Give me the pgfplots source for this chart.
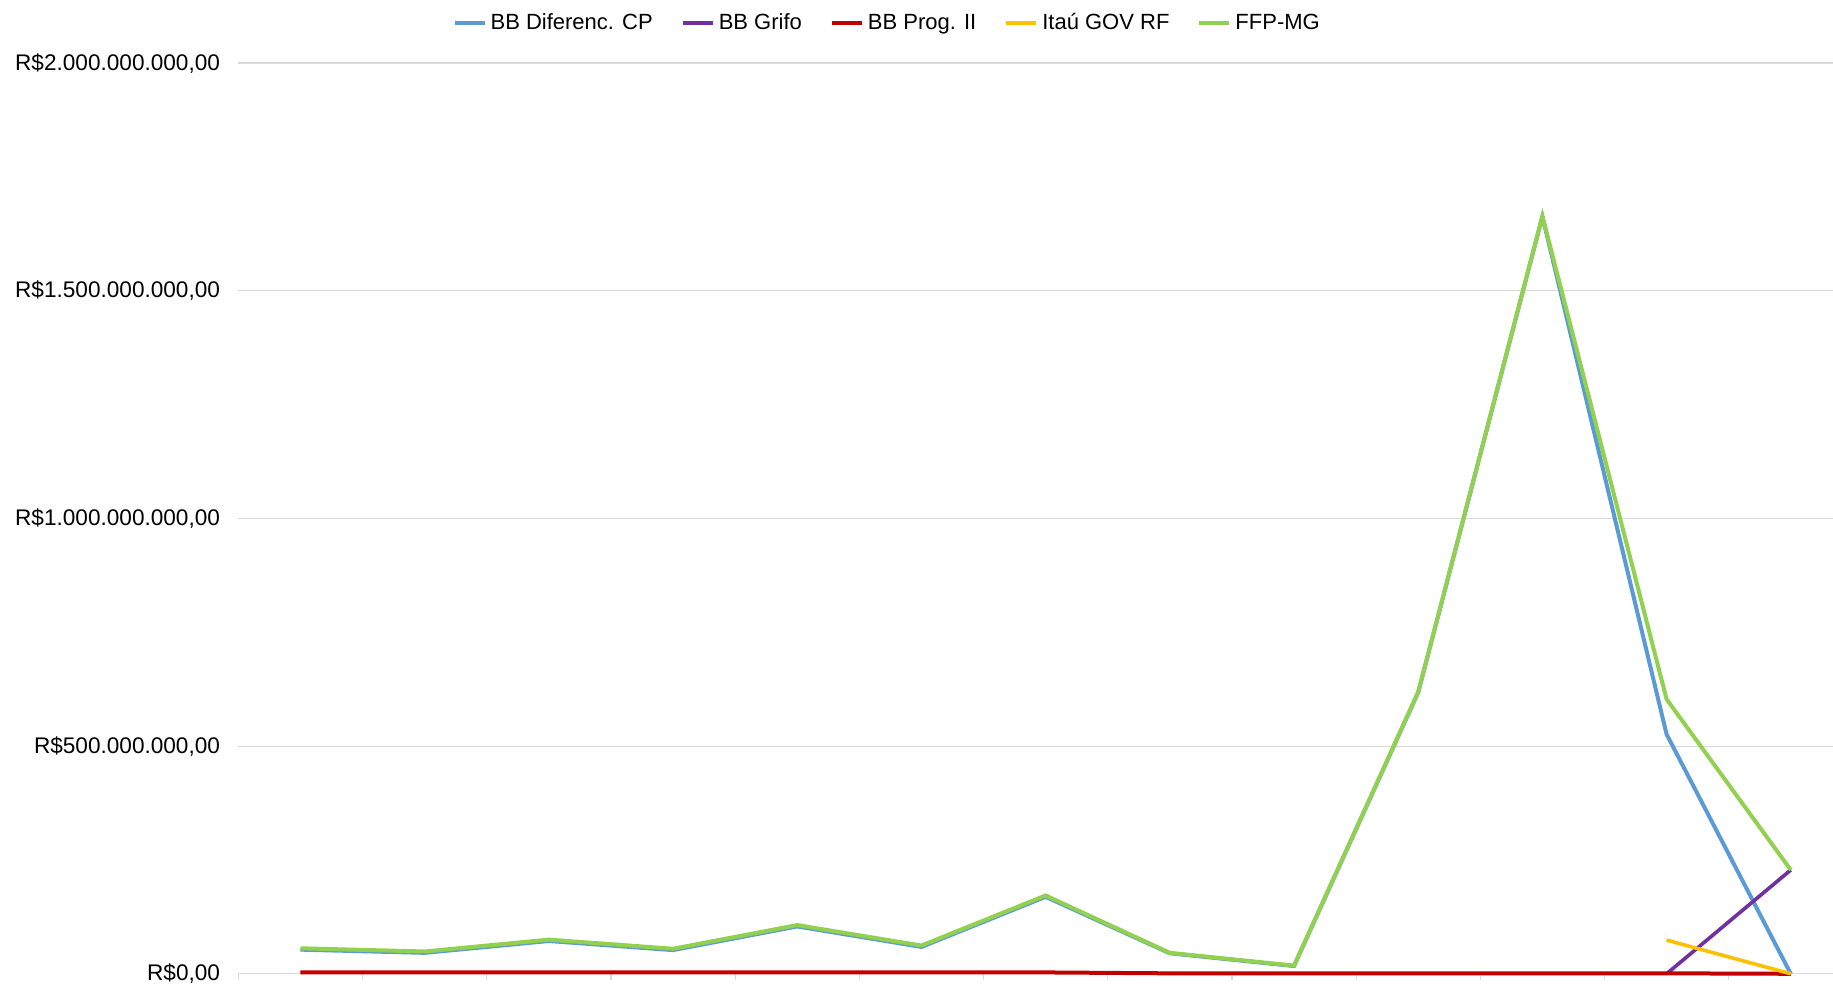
\documentclass[border=0pt]{standalone}
\usepackage{fontspec}
\setmainfont{Liberation Sans}
\usepackage{pgfplots}
\pgfplotsset{compat=1.18}
\definecolor{cBlue}{HTML}{5B9BD5}
\definecolor{cPurple}{HTML}{7030A0}
\definecolor{cRed}{HTML}{C00000}
\definecolor{cYellow}{HTML}{FFC000}
\definecolor{cGreen}{HTML}{92D050}
\definecolor{cGrid}{HTML}{D9D9D9}
\begin{document}
\begin{tikzpicture}[font=\fontsize{11.3}{13.5}\selectfont]
\begin{axis}[
  at={(0,0)}, anchor=south west,
  scale only axis, width=797.3pt, height=455.35pt,
  xmin=-0.5, xmax=12.34, ymin=0, ymax=2000000000,
  clip=false,
  axis x line*=bottom, axis y line*=left,
  y axis line style={draw=none},
  x axis line style={draw=cGrid, line width=0.7pt},
  xtick={-0.5,0.5,1.5,2.5,3.5,4.5,5.5,6.5,7.5,8.5,9.5,10.5,11.5},
  xticklabels={},
  xtick align=outside,
  x tick style={draw=cGrid, line width=0.6pt},
  x tick label style={font=\tiny},
  major tick length=3pt,
  ytick={0,500000000,1000000000,1500000000,2000000000},
  yticklabels={{R\$0,00},{R\$500.000.000,00},{R\$1.000.000.000,00},{R\$1.500.000.000,00},{R\$2.000.000.000,00}},
  y tick style={draw=none},
  scaled y ticks=false,
  yticklabel style={anchor=east, inner sep=0pt, xshift=-9pt, font=\fontsize{11.3}{13.5}\selectfont},
  ymajorgrids,
  grid style={draw=cGrid, line width=0.6pt},
  legend columns=5,
  legend style={draw=none, fill=none, at={(0.4075,1.044)}, anchor=center,
    /tikz/every even column/.append style={column sep=12pt},
    font=\fontsize{11}{13.2}\selectfont, inner sep=0pt},
  legend cell align=left,
  legend image code/.code={\draw[#1, line width=2pt] (0pt,0pt) -- (15pt,0pt);},
]
\addplot[cBlue, line width=2pt] coordinates {
(0,53000000) (1,46000000) (2,72000000) (3,52000000) (4,104000000) (5,59000000)
(6,169000000) (7,45000000) (8,17000000) (9,618000000) (10,1663000000) (11,526000000) (12,0)};
\addlegendentry{BB Diferenc. CP}
\addplot[cPurple, line width=1.8pt] coordinates {(11,0) (12,228000000)};
\addlegendentry{BB Grifo}
\addplot[cRed, line width=2pt] coordinates {
(0,3000000) (1,3000000) (2,3000000) (3,3000000) (4,3000000) (5,3000000)
(6,3000000) (7,1000000) (8,1000000) (9,1000000) (10,1000000) (11,1000000) (12,0)};
\addlegendentry{BB Prog. II}
\addplot[cYellow, line width=1.8pt] coordinates {(11,74000000) (12,0)};
\addlegendentry{Itaú GOV RF}
\addplot[cGreen, line width=2pt] coordinates {
(0,56000000) (1,49000000) (2,75000000) (3,55000000) (4,107000000) (5,62000000)
(6,172000000) (7,46000000) (8,18000000) (9,619000000) (10,1664000000) (11,603000000) (12,228000000)};
\addlegendentry{FFP-MG}
\end{axis}
\pgfresetboundingbox
\path[use as bounding box] (-119.2pt,-5.6pt) rectangle (797.3pt,486.9pt);
\end{tikzpicture}
\end{document}
